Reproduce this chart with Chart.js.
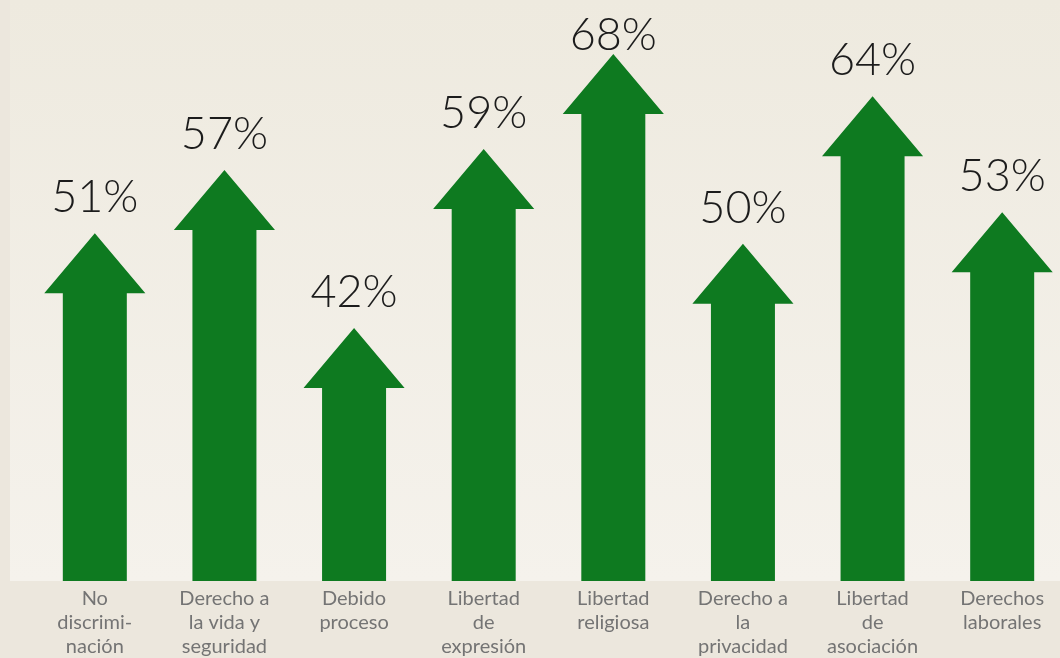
<!DOCTYPE html>
<html lang="es">
<head>
<meta charset="utf-8">
<title>Derechos</title>
<script src="https://cdn.jsdelivr.net/npm/chart.js@4"></script>
<style>
  html, body {
    margin: 0;
    padding: 0;
    overflow: hidden;
    background: #ece7dd;
  }
  #wrap {
    position: relative;
    width: 1067px;
    height: 658px;
  }
</style>
</head>
<body>
<div id="wrap"><canvas id="chart"></canvas></div>
<script>
const categories = [
  ["No", "discrimi-", "nación"],
  ["Derecho a", "la vida y", "seguridad"],
  ["Debido", "proceso"],
  ["Libertad", "de", "expresión"],
  ["Libertad", "religiosa"],
  ["Derecho a", "la", "privacidad"],
  ["Libertad", "de", "asociación"],
  ["Derechos", "laborales"]
];
const values = [51, 57, 42, 59, 68, 50, 64, 53];
const valueLabels = ["51%", "57%", "42%", "59%", "68%", "50%", "64%", "53%"];

const GREEN = "#0e7a20";

// paints the page background and the lighter band behind the arrows
const backdrop = {
  id: "backdrop",
  beforeDraw(chart) {
    const { ctx, chartArea, width, height } = chart;
    ctx.save();
    ctx.fillStyle = "#ece7dd";
    ctx.fillRect(0, 0, width, height);
    const g = ctx.createLinearGradient(0, 0, 0, chartArea.bottom);
    g.addColorStop(0, "#eeeadf");
    g.addColorStop(1, "#f5f2ec");
    ctx.fillStyle = g;
    ctx.fillRect(10, 0, width - 10, chartArea.bottom);
    ctx.restore();
  }
};

// draws each bar as an up arrow, with its percentage above
const arrows = {
  id: "arrows",
  afterDatasetsDraw(chart) {
    const { ctx } = chart;
    const meta = chart.getDatasetMeta(0);
    ctx.save();
    meta.data.forEach((bar, i) => {
      const { x, y, base, width } = bar.getProps(["x", "y", "base", "width"], true);
      const headH = 60;
      const headW = width * 1.58;
      ctx.beginPath();
      ctx.moveTo(x - width / 2, base);
      ctx.lineTo(x - width / 2, y + headH);
      ctx.lineTo(x - headW / 2, y + headH);
      ctx.lineTo(x, y);
      ctx.lineTo(x + headW / 2, y + headH);
      ctx.lineTo(x + width / 2, y + headH);
      ctx.lineTo(x + width / 2, base);
      ctx.closePath();
      ctx.fillStyle = GREEN;
      ctx.fill();

      ctx.fillStyle = "#1c1c1c";
      ctx.font = "300 45px Lato";
      ctx.textAlign = "center";
      ctx.textBaseline = "alphabetic";
      ctx.fillText(valueLabels[i], x, Math.max(y - 21, 50));
    });
    ctx.restore();
  }
};

new Chart(document.getElementById("chart"), {
  type: "bar",
  data: {
    labels: categories,
    datasets: [
      {
        data: values,
        base: 18,
        backgroundColor: "rgba(0,0,0,0)",
        barThickness: 64
      }
    ]
  },
  options: {
    responsive: true,
    maintainAspectRatio: false,
    animation: false,
    layout: { padding: { left: 30, right: 0, top: 33, bottom: -7 } },
    plugins: {
      legend: { display: false },
      tooltip: { enabled: false }
    },
    scales: {
      x: {
        grid: { display: false, drawTicks: false },
        border: { display: false },
        ticks: {
          padding: 6,
          maxRotation: 0,
          autoSkip: false,
          color: "#747474",
          font: { family: "Lato", size: 20, lineHeight: 1.2 }
        }
      },
      y: {
        display: false,
        min: 18,
        max: 70
      }
    }
  },
  plugins: [backdrop, arrows]
});
</script>
</body>
</html>
